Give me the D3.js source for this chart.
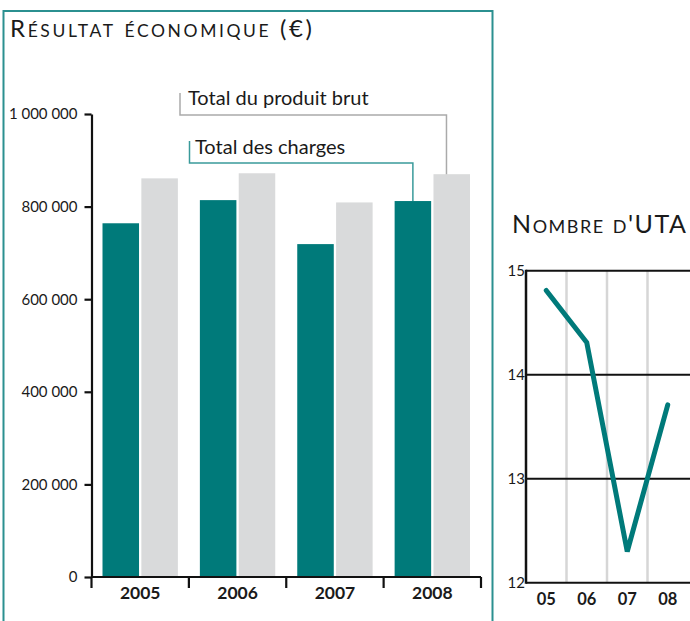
<!DOCTYPE html>
<html>
<head>
<meta charset="utf-8">
<script src="https://cdn.jsdelivr.net/npm/d3@7"></script>
<style>
  html, body { margin: 0; padding: 0; background: #fff; }
  svg { display: block; font-family: Lato, "Open Sans", sans-serif; }
</style>
</head>
<body>
<svg id="chart" width="690" height="621"></svg>
<script>
// Résultat économique (bar chart)
const years = ['2005', '2006', '2007', '2008'];
const totalCharges = [764000, 814000, 719000, 812000];
const produitBrut = [861000, 872000, 809000, 870000];
const resultTicks = [0, 200000, 400000, 600000, 800000, 1000000];

// Nombre d'UTA (line chart)
const utaYears = ['05', '06', '07', '08'];
const utaValues = [14.81, 14.31, 12.30, 13.71];
const utaTicks = [12, 13, 14, 15];

const TEAL = '#007a7a';
const GREY = '#d9dadb';
const BORDER = '#2b9090';

const svg = d3.select('#chart');

// small caps title helper: capitals big, lowercase as small capitals
function smallCaps(sel, text, big, small) {
    text.split('').forEach(ch => {
        const lower = ch !== ch.toUpperCase();
        sel.append('tspan')
            .attr('font-size', lower ? small : big)
            .text(lower ? ch.toUpperCase() : ch);
    });
}

// frame around the left panel
svg.append('path')
    .attr('d', 'M3.5,621 V11 H492.5 V621')
    .attr('fill', 'none')
    .attr('stroke', BORDER)
    .attr('stroke-width', 2);

const t1 = svg.append('text')
    .attr('x', 10).attr('y', 37)
    .attr('fill', '#1a1a1a')
    .attr('textLength', 302)
    .attr('lengthAdjust', 'spacing');
smallCaps(t1, 'Résultat économique (€)', 24, 17.5);

// scales
const x = d3.scaleBand().domain(years).range([91.5, 481]);
const x1 = d3.scaleBand().domain(['charges', 'brut'])
    .range([11, x.bandwidth() - 11]).paddingInner(0.06);
const y = d3.scaleLinear().domain([0, 1000000]).range([577, 114]);

// bars
const groups = svg.append('g').selectAll('g')
    .data(years)
    .join('g')
    .attr('transform', d => `translate(${x(d)},0)`);

groups.append('rect')
    .attr('x', x1('charges'))
    .attr('width', x1.bandwidth())
    .attr('y', (d, i) => y(totalCharges[i]))
    .attr('height', (d, i) => y(0) - y(totalCharges[i]))
    .attr('fill', TEAL);

groups.append('rect')
    .attr('x', x1('brut'))
    .attr('width', x1.bandwidth())
    .attr('y', (d, i) => y(produitBrut[i]))
    .attr('height', (d, i) => y(0) - y(produitBrut[i]))
    .attr('fill', GREY);

// y axis
const yAxis = svg.append('g')
    .attr('transform', 'translate(91.5,0)')
    .call(d3.axisLeft(y)
        .tickValues(resultTicks)
        .tickSize(7)
        .tickSizeOuter(0)
        .tickPadding(7)
        .tickFormat(d => d3.format(',')(d).replace(/,/g, ' ')));
yAxis.selectAll('path, line').attr('stroke', '#111').attr('stroke-width', 2.2);
yAxis.selectAll('text')
    .attr('font-size', 15)
    .attr('font-family', 'Lato, sans-serif')
    .attr('fill', '#1a1a1a');

// x axis: baseline, ticks at band edges, bold year labels
const xAxis = svg.append('g');
xAxis.append('line')
    .attr('x1', x.range()[0]).attr('x2', x.range()[1])
    .attr('y1', y(0)).attr('y2', y(0))
    .attr('stroke', '#111').attr('stroke-width', 2.2);
xAxis.selectAll('.edge')
    .data(years.map(d => x(d)).concat([x.range()[1]]))
    .join('line')
    .attr('x1', d => d).attr('x2', d => d)
    .attr('y1', y(0)).attr('y2', y(0) + 11)
    .attr('stroke', '#111').attr('stroke-width', 2.2);
xAxis.selectAll('.lbl')
    .data(years)
    .join('text')
    .attr('x', d => x(d) + x.bandwidth() / 2)
    .attr('y', 599)
    .attr('text-anchor', 'middle')
    .attr('font-size', 17.5)
    .attr('font-weight', 700)
    .attr('fill', '#1a1a1a')
    .text(d => d);

// callouts
const last = years.length - 1;
const chargesX = x(years[last]) + x1('charges') + x1.bandwidth() / 2;
const brutX = x(years[last]) + x1('brut') + 13;

svg.append('path')
    .attr('d', `M180,93 V115 H${brutX} V${y(produitBrut[last])}`)
    .attr('fill', 'none').attr('stroke', '#aaaaaa').attr('stroke-width', 1.5);
svg.append('text')
    .attr('x', 188).attr('y', 105)
    .attr('font-size', 20).attr('fill', '#1a1a1a')
    .text('Total du produit brut');

svg.append('path')
    .attr('d', `M189.5,141 V163 H${chargesX} V${y(totalCharges[last])}`)
    .attr('fill', 'none').attr('stroke', '#3a9a9a').attr('stroke-width', 1.5);
svg.append('text')
    .attr('x', 195).attr('y', 154)
    .attr('font-size', 20).attr('fill', '#1a1a1a')
    .text('Total des charges');

// ---- Nombre d'UTA ----
const t2 = svg.append('text')
    .attr('x', 512).attr('y', 233)
    .attr('fill', '#1a1a1a')
    .attr('textLength', 174)
    .attr('lengthAdjust', 'spacing');
smallCaps(t2, "Nombre d'UTA", 25, 18);

const xu = d3.scaleBand().domain(utaYears).range([526, 688]);
const yu = d3.scaleLinear().domain([12, 15]).range([582.7, 270.7]);

// vertical light grid between years
svg.append('g').selectAll('line')
    .data(utaYears.slice(1))
    .join('line')
    .attr('x1', d => xu(d)).attr('x2', d => xu(d))
    .attr('y1', yu(15)).attr('y2', yu(12))
    .attr('stroke', '#d6d6d6').attr('stroke-width', 2.5);

// horizontal lines
svg.append('g').selectAll('line')
    .data(utaTicks)
    .join('line')
    .attr('x1', 526).attr('x2', 690)
    .attr('y1', d => yu(d)).attr('y2', d => yu(d))
    .attr('stroke', '#111').attr('stroke-width', 2);

svg.append('line')
    .attr('x1', 526).attr('x2', 526)
    .attr('y1', yu(15) - 1).attr('y2', yu(12) + 1)
    .attr('stroke', '#111').attr('stroke-width', 2.5);

svg.append('g').selectAll('text')
    .data(utaTicks)
    .join('text')
    .attr('x', 525)
    .attr('y', d => yu(d) + 5)
    .attr('text-anchor', 'end')
    .attr('font-size', 15)
    .attr('fill', '#1a1a1a')
    .text(d => d);

svg.append('g').selectAll('text')
    .data(utaYears)
    .join('text')
    .attr('x', d => xu(d) + xu.bandwidth() / 2)
    .attr('y', 605)
    .attr('text-anchor', 'middle')
    .attr('font-size', 16.5)
    .attr('font-weight', 700)
    .attr('fill', '#1a1a1a')
    .text(d => d);

const line = d3.line()
    .x((d, i) => xu(utaYears[i]) + xu.bandwidth() / 2)
    .y(d => yu(d));

svg.append('path')
    .datum(utaValues)
    .attr('d', line)
    .attr('fill', 'none')
    .attr('stroke', TEAL)
    .attr('stroke-width', 5)
    .attr('stroke-linecap', 'round')
    .attr('stroke-linejoin', 'miter');
</script>
</body>
</html>
